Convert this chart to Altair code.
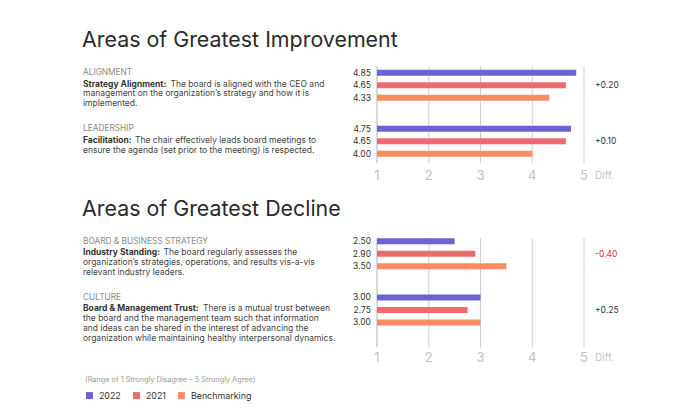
import altair as alt
import pandas as pd

# ---------------- data ----------------
groups = ["ALIGNMENT", "LEADERSHIP", "BOARD & BUSINESS STRATEGY", "CULTURE"]
headlines = ["Strategy Alignment:", "Facilitation:", "Industry Standing:", "Board & Management Trust:"]
first_lines = [
    "The board is aligned with the CEO and",
    "The chair effectively leads board meetings to",
    "The board regularly assesses the",
    "There is a mutual trust between",
]
more_lines = [
    ["management on the organization\u2019s strategy and how it is", "implemented."],
    ["ensure the agenda (set prior to the meeting) is respected."],
    ["organization\u2019s strategies, operations, and results vis-a-vis", "relevant industry leaders."],
    ["the board and the management team such that information",
     "and ideas can be shared in the interest of advancing the",
     "organization while maintaining healthy interpersonal dynamics."],
]
series = ["2022", "2021", "Benchmarking"]
scores_2022 = [4.85, 4.75, 2.50, 3.00]
scores_2021 = [4.65, 4.65, 2.90, 2.75]
scores_bench = [4.33, 4.00, 3.50, 3.00]
diffs = ["+0.20", "+0.10", "-0.40", "+0.25"]
ticks = [1, 2, 3, 4, 5]
section_titles = ["Areas of Greatest Improvement", "Areas of Greatest Decline"]
note = "(Range of 1 Strongly Disagree \u2013 5 Strongly Agree)"

# ---------------- style / layout ----------------
FONT = "Inter"
COLORS = ["#6b63ce", "#f0696e", "#fa8c62"]
DARK = "#333333"
W, H = 682, 404
X_MIN, X_MAX = 1, 5
X_RANGE = [369, 576]
UNIT = 56.2 / 18            # px per layout unit
Y_DOMAIN = [0, 130]
Y_RANGE = [14.7, 14.7 + 130 * UNIT]
SLOTS = [0, 1, 3, 4]        # group slots (one empty slot between the two sections)
STEP = 18                   # layout units between group centres
BAR_OFF = [-4, 0, 4]        # bar offsets in a group
LINE_STEP = 3.15            # text line spacing in layout units
LEFT_X = 75
CONT_X = [162.5, 127, 155.5, 195]   # where the regular text follows the bold lead-in
DESC_SIZE = 8.5
TEXT_DY = 1.5

centres = [20 + STEP * s for s in SLOTS]

# ---------------- tables ----------------
rows = []
for i, g in enumerate(groups):
    for s, vals, off in zip(series, [scores_2022, scores_2021, scores_bench], BAR_OFF):
        rows.append({"group": g, "series": s, "value": vals[i], "base": X_MIN,
                     "label": f"{vals[i]:.2f}", "pos": centres[i] + off})
bar_df = pd.DataFrame(rows)

info_df = pd.DataFrame({
    "group": groups,
    "head": headlines,
    "first": first_lines,
    "diff": diffs,
    "neg": [d.startswith("-") for d in diffs],
    "pos": centres,
    "right": [X_MAX] * len(groups),
})

line_df = pd.DataFrame([
    {"group": g, "text": t, "pos": centres[i] + LINE_STEP * (k + 1)}
    for i, g in enumerate(groups) for k, t in enumerate(more_lines[i])
])

sec_rows = [  # (section, from, to, label row)
    ("top", centres[0] - 6, centres[1] + 7, centres[1] + 11),
    ("bottom", centres[2] - 5, centres[3] + 12, centres[3] + 15.4),
]
grid_df = pd.DataFrame([
    {"section": sec, "tick": t, "y_from": a, "y_to": b, "y_lab": c}
    for sec, a, b, c in sec_rows for t in ticks
])
title_df = pd.DataFrame({"title": section_titles, "pos": [centres[0] - 14, centres[2] - 14]})

xscale = alt.Scale(domain=[X_MIN, X_MAX], range=X_RANGE, nice=False, zero=False, padding=0)
yscale = alt.Scale(domain=Y_DOMAIN, range=Y_RANGE, nice=False, zero=False, padding=0)


def Y(field):
    return alt.Y(field, type="quantitative", scale=yscale, axis=None)


def X(field):
    return alt.X(field, type="quantitative", scale=xscale, axis=None)


legend = alt.Legend(
    orient="none", legendX=77, legendY=368, direction="horizontal",
    title=note, titleFontSize=7.3, titleColor="#9a9a9a", titleFontWeight="normal",
    titleFont=FONT, titlePadding=7.5, titleLimit=500,
    labelFont=FONT, labelFontSize=8.9, labelColor=DARK,
    symbolType="square", symbolSize=49, symbolStrokeWidth=0, symbolOpacity=1,
    columnPadding=11, labelOffset=5,
)

base_bar = alt.Chart(bar_df)
bars = base_bar.mark_bar(size=6, orient="horizontal").encode(
    x=X("value"),
    x2="base:Q",
    y=Y("pos"),
    color=alt.Color("series:N", scale=alt.Scale(domain=series, range=COLORS), legend=legend),
)

value_labels = base_bar.mark_text(align="right", baseline="middle", dx=-6, fontSize=8.5, font=FONT, color=DARK).encode(
    x=X("base"),
    y=Y("pos"),
    text="label:N",
)

grid = alt.Chart(grid_df)
axis_rules = grid.transform_filter("datum.tick == 1").mark_rule(strokeWidth=1, color="#b4b4b4").encode(
    x=X("tick"), y=Y("y_from"), y2="y_to:Q",
)
grid_rules = grid.transform_filter("datum.tick > 1").mark_rule(strokeWidth=1, color="#cfcfcf").encode(
    x=X("tick"), y=Y("y_from"), y2="y_to:Q",
)
tick_labels = grid.mark_text(fontSize=13, font=FONT, color="#c4c4c4", baseline="middle").encode(
    x=X("tick"),
    y=Y("y_lab"),
    text="tick:N",
)
diff_head = grid.transform_filter("datum.tick == 5").transform_calculate(lab="'Diff.'").mark_text(
    fontSize=10, font=FONT, color="#c4c4c4", baseline="middle", align="left", dx=11
).encode(
    x=X("tick"),
    y=Y("y_lab"),
    text="lab:N",
)

info = alt.Chart(info_df)
diff_pos = info.transform_filter("!datum.neg").mark_text(
    align="left", baseline="middle", dx=11, fontSize=8.5, font=FONT, color=DARK
).encode(x=X("right"), y=Y("pos"), text="diff:N")
diff_neg = info.transform_filter("datum.neg").mark_text(
    align="left", baseline="middle", dx=11, fontSize=8.5, font=FONT, color="#e0312f"
).encode(x=X("right"), y=Y("pos"), text="diff:N")

cat_labels = info.mark_text(align="left", baseline="alphabetic", dy=-10, fontSize=8.3, font=FONT,
                            color="#8a8a8a").encode(
    x=alt.value(LEFT_X),
    y=Y("pos"),
    text="group:N",
)
head_labels = info.mark_text(align="left", baseline="alphabetic", dy=TEXT_DY, fontSize=DESC_SIZE, font=FONT,
                             fontWeight="bold", color=DARK).encode(
    x=alt.value(LEFT_X),
    y=Y("pos"),
    text="head:N",
)
cont_layers = []
for g, cx in zip(groups, CONT_X):
    cont_layers.append(
        info.transform_filter(alt.datum.group == g).mark_text(
            align="left", baseline="alphabetic", dy=TEXT_DY, fontSize=DESC_SIZE, font=FONT, color="#444444"
        ).encode(
            x=alt.value(cx),
            y=Y("pos"),
            text="first:N",
        )
    )
more_labels = alt.Chart(line_df).mark_text(align="left", baseline="alphabetic", dy=TEXT_DY, fontSize=DESC_SIZE,
                                           font=FONT, color="#444444").encode(
    x=alt.value(LEFT_X),
    y=Y("pos"),
    text="text:N",
)

titles = alt.Chart(title_df).mark_text(align="left", baseline="middle", fontSize=21.4,
                                       font=FONT, color="#2b2b2b").encode(
    x=alt.value(74),
    y=Y("pos"),
    text="title:N",
)

chart = alt.layer(
    axis_rules, grid_rules, bars, value_labels, tick_labels, diff_head, diff_pos, diff_neg,
    cat_labels, head_labels, *cont_layers, more_labels, titles,
).properties(
    width=W, height=H, padding=0, background="white",
    autosize=alt.AutoSizeParams(type="none"),
).configure_view(strokeWidth=0)

chart.save("out.html", embed_options={"renderer": "svg", "actions": False})
